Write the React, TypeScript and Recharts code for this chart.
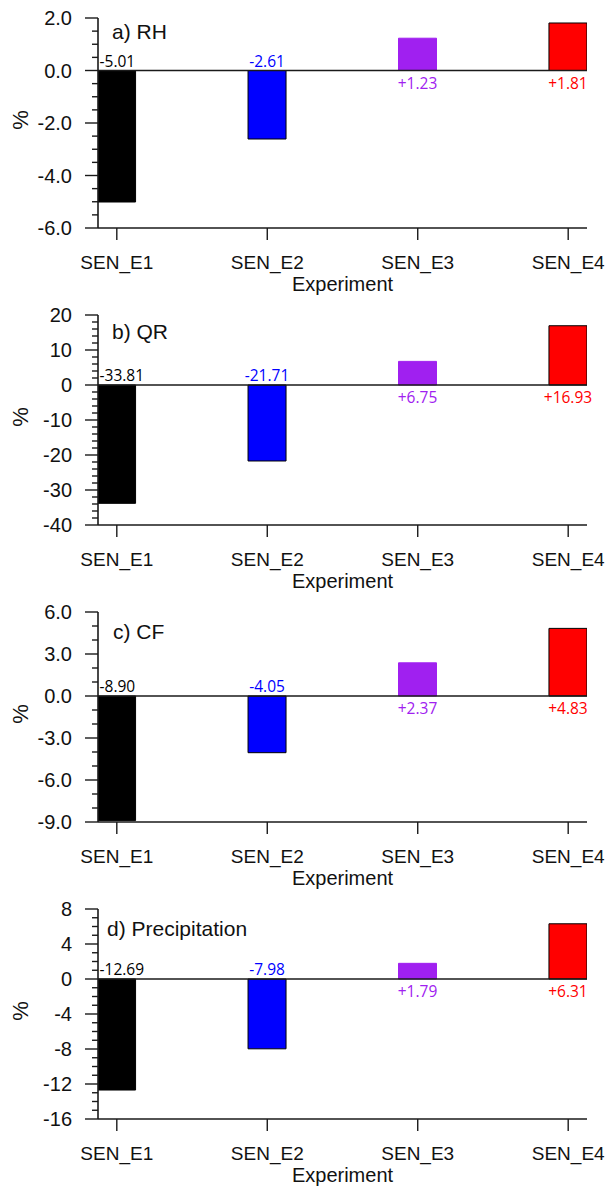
import React from 'react';
import { BarChart, Bar, XAxis, YAxis, Cell, ReferenceLine, LabelList } from 'recharts';

// ---- data ----
const EXPERIMENTS = ['SEN_E1', 'SEN_E2', 'SEN_E3', 'SEN_E4'];
const X_POS = [1, 2, 3, 4];
const COLORS = ['#000000', '#0000FF', '#A020F0', '#FF0000'];

const RH = [-5.01, -2.61, 1.23, 1.81];
const QR = [-33.81, -21.71, 6.75, 16.93];
const CF = [-8.9, -4.05, 2.37, 4.83];
const PRECIP = [-12.69, -7.98, 1.79, 6.31];

const RH_TICKS = [-6, -4, -2, 0, 2];
const RH_TICK_LABELS = ['-6.0', '-4.0', '-2.0', '0.0', '2.0'];
const QR_TICKS = [-40, -30, -20, -10, 0, 10, 20];
const QR_TICK_LABELS = ['-40', '-30', '-20', '-10', '0', '10', '20'];
const CF_TICKS = [-9, -6, -3, 0, 3, 6];
const CF_TICK_LABELS = ['-9.0', '-6.0', '-3.0', '0.0', '3.0', '6.0'];
const PR_TICKS = [-16, -12, -8, -4, 0, 4, 8];
const PR_TICK_LABELS = ['-16', '-12', '-8', '-4', '0', '4', '8'];

const PANELS = [
  { title: 'a) RH', values: RH, ticks: RH_TICKS, labels: RH_TICK_LABELS, minor: 0.5, titleDy: 20.5, titleX: 112 },
  { title: 'b) QR', values: QR, ticks: QR_TICKS, labels: QR_TICK_LABELS, minor: 2, titleDy: 24, titleX: 112 },
  { title: 'c) CF', values: CF, ticks: CF_TICKS, labels: CF_TICK_LABELS, minor: 1, titleDy: 27, titleX: 113 },
  { title: 'd) Precipitation', values: PRECIP, ticks: PR_TICKS, labels: PR_TICK_LABELS, minor: 1, titleDy: 27, titleX: 107 },
];

const X_DOMAIN = [0.875, 4.125];
const FRAME = '#1a1a1a';
const SANS = 'Liberation Sans, Arial, Helvetica, sans-serif';
const VAL_FONT = 'Open Sans, Noto Sans, sans-serif';

function allTicks(major: number[], step: number) {
  const lo = major[0];
  const hi = major[major.length - 1];
  const out: number[] = [];
  const n = Math.round((hi - lo) / step);
  for (let i = 0; i <= n; i++) out.push(Math.round((lo + i * step) * 1000) / 1000);
  return out;
}

const YTick = (props: any) => {
  const { x, y, payload, majors, labels } = props;
  const v = payload.value;
  const idx = majors.findIndex((m: number) => Math.abs(m - v) < 1e-6);
  const isMajor = idx >= 0;
  return (
    <g>
      <line x1={x - (isMajor ? 13 : 6)} x2={x} y1={y} y2={y} stroke={FRAME} strokeWidth={1.4} />
      {isMajor && (
        <text x={x - 26} y={y} dy={7} textAnchor="end" fontSize={20} fontFamily={SANS} fill="#111">
          {labels[idx]}
        </text>
      )}
    </g>
  );
};

const XTick = (props: any) => {
  const { x, y, payload } = props;
  const i = X_POS.indexOf(payload.value);
  return (
    <g>
      <line x1={x} x2={x} y1={y} y2={y + 12} stroke={FRAME} strokeWidth={1.4} />
      <text x={x} y={y + 41} textAnchor="middle" fontSize={19} fontFamily={SANS} fill="#111">
        {EXPERIMENTS[i]}
      </text>
    </g>
  );
};

const ValueLabel = (props: any) => {
  const { x, y, width, height, value, index } = props;
  const v = Number(value);
  const xn = Number(x), yn = Number(y), w = Number(width), h = Number(height);
  const top = Math.min(yn, yn + h);
  const bottom = Math.max(yn, yn + h);
  const zeroY = v < 0 ? top : bottom;
  const text = v > 0 ? `+${v.toFixed(2)}` : v.toFixed(2);
  const start = index === 0;
  const tx = start ? xn + 2 : xn + w / 2;
  const ty = v < 0 ? zeroY - 4 : zeroY + 18;
  return (
    <text x={tx} y={ty} textAnchor={start ? 'start' : 'middle'} fill={COLORS[index]} fontSize={15.5} fontFamily={VAL_FONT}>
      {text}
    </text>
  );
};

const Panel = ({ p }: { p: typeof PANELS[number] }) => {
  const rows = X_POS.map((x, i) => ({ x, name: EXPERIMENTS[i], value: p.values[i] }));
  const domain = [p.ticks[0], p.ticks[p.ticks.length - 1]];
  const tickList = allTicks(p.ticks, p.minor);
  return (
    <BarChart width={610} height={297} data={rows} margin={{ top: 18, right: 23, bottom: 0, left: 0 }}>
      <XAxis
        dataKey="x"
        type="number"
        domain={X_DOMAIN}
        ticks={X_POS}
        interval={0}
        allowDataOverflow
        tickSize={0}
        tickMargin={0}
        tickLine={false}
        tick={<XTick />}
        height={69}
        axisLine={{ stroke: FRAME, strokeWidth: 1.6 }}
        label={{
          content: (lp: any) => {
            const vb = lp.viewBox || {};
            return (
              <text x={vb.x + vb.width / 2} y={vb.y + 63} textAnchor="middle" fontSize={20} fontFamily={SANS} fill="#111">
                Experiment
              </text>
            );
          },
        }}
      />
      <XAxis
        xAxisId="top"
        orientation="top"
        type="number"
        domain={X_DOMAIN}
        allowDataOverflow
        height={0}
        tick={false}
        tickLine={false}
        axisLine={{ stroke: FRAME, strokeWidth: 1.6 }}
      />
      <YAxis
        yAxisId="main"
        type="number"
        domain={domain}
        ticks={tickList}
        interval={0}
        allowDataOverflow
        width={98}
        tickSize={0}
        tickMargin={0}
        tickLine={false}
        tick={<YTick majors={p.ticks} labels={p.labels} />}
        axisLine={{ stroke: FRAME, strokeWidth: 1.6 }}
        label={{
          content: (lp: any) => {
            const vb = lp.viewBox || {};
            const cy = vb.y + vb.height / 2 - 3;
            return (
              <g>
                <text x={28} y={cy} transform={`rotate(-90, 28, ${cy})`} textAnchor="middle" fontSize={22} fontFamily={SANS} fill="#111">
                  %
                </text>
                <text x={p.titleX} y={vb.y + p.titleDy} fontSize={21} fontFamily={SANS} fill="#111">
                  {p.title}
                </text>
              </g>
            );
          },
        }}
      />
      <YAxis
        yAxisId="right"
        orientation="right"
        type="number"
        domain={domain}
        allowDataOverflow
        width={0}
        tick={false}
        tickLine={false}
        axisLine={{ stroke: FRAME, strokeWidth: 1.6 }}
      />
      <Bar dataKey="value" yAxisId="main" barSize={38} isAnimationActive={false}>
        {rows.map((r, i) => (
          <Cell key={r.name} fill={COLORS[i]} stroke={i === 2 ? COLORS[i] : '#000'} strokeWidth={1} />
        ))}
        <LabelList dataKey="value" content={<ValueLabel />} />
      </Bar>
      <ReferenceLine y={0} yAxisId="main" stroke={FRAME} strokeWidth={1.5} ifOverflow="visible" />
    </BarChart>
  );
};

export default function App() {
  return (
    <div style={{ position: 'absolute', top: 0, left: 0, width: 610, height: 1195, background: '#fff' }}>
      {PANELS.map((p) => (
        <div key={p.title} style={{ width: 610, height: 297 }}>
          <Panel p={p} />
        </div>
      ))}
    </div>
  );
}
